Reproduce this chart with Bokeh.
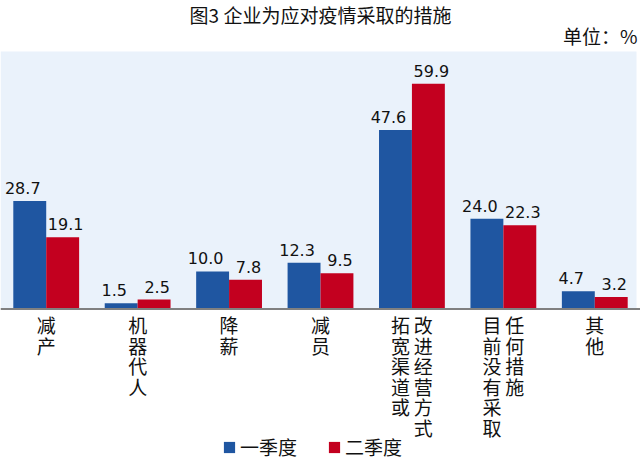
from bokeh.plotting import figure
from bokeh.models import FactorRange, Range1d, Label, Legend, LegendItem, ColumnDataSource, BoxAnnotation, Span
from bokeh.transform import dodge
from bokeh.core.properties import value
from bokeh.embed import file_html
from bokeh.resources import INLINE

# ---- data ----
cat_columns = [["减产"], ["机器代人"], ["降薪"], ["减员"],
               ["拓宽渠道或", "改进经营方式"], ["目前没有采取", "任何措施"], ["其他"]]
categories = ["".join(c) for c in cat_columns]
q1 = [28.7, 1.5, 10.0, 12.3, 47.6, 24.0, 4.7]
q2 = [19.1, 2.5, 7.8, 9.5, 59.9, 22.3, 3.2]
series = ["一季度", "二季度"]
title_text = "图3 企业为应对疫情采取的措施"
unit_text = "单位：%"

BLUE = "#1f56a1"
RED = "#c3001f"
BG = "#eaf2fb"
CJK = "Noto Sans CJK SC"
W, H = 640, 460
BASE = 308.5          # baseline, px from top
PX_PER_UNIT = 3.76
PLOT_TOP = 51         # top of shaded plot area, px from top


def vertical_label(cols):
    n = max(len(c) for c in cols)
    rows = []
    for i in range(n):
        rows.append("\u2009".join(c[i] if i < len(c) else "\u3000" for c in cols))
    return "\n".join(rows)


src = ColumnDataSource(dict(
    cat=categories, q1=q1, q2=q2,
    q1_txt=[f"{v:.1f}" for v in q1], q2_txt=[f"{v:.1f}" for v in q2],
    lbl=[vertical_label(c) for c in cat_columns],
))

p = figure(width=W, height=H, x_range=FactorRange(*categories, range_padding=0),
           y_range=Range1d(-(H - BASE) / PX_PER_UNIT, BASE / PX_PER_UNIT),
           output_backend="svg", toolbar_location=None,
           x_axis_location=None, y_axis_location=None,
           min_border=0, min_border_left=0, min_border_right=0,
           min_border_top=0, min_border_bottom=0)
p.background_fill_color = "white"
p.border_fill_color = "white"
p.outline_line_color = None
p.xgrid.visible = False
p.ygrid.visible = False

bg = BoxAnnotation(bottom=0, top=(BASE - PLOT_TOP) / PX_PER_UNIT, right=636, right_units="screen",
                   fill_color=BG, fill_alpha=1, line_color=None, level="underlay")
p.add_layout(bg)

r1 = p.vbar(x=dodge("cat", -0.18, range=p.x_range), top="q1", width=0.36, source=src,
            fill_color=BLUE, line_color=None)
r2 = p.vbar(x=dodge("cat", 0.18, range=p.x_range), top="q2", width=0.36, source=src,
            fill_color=RED, line_color=None)

p.add_layout(Span(location=0, dimension="width", line_color="#808080", line_width=2))

p.text(x=dodge("cat", -0.18, range=p.x_range), y="q1", text="q1_txt", source=src,
       text_font=value("DejaVu Sans"), text_font_size="16px", text_color="#111111",
       text_align="center", text_baseline="bottom", x_offset=-7, y_offset=-7)
p.text(x=dodge("cat", 0.18, range=p.x_range), y="q2", text="q2_txt", source=src,
       text_font=value("DejaVu Sans"), text_font_size="16px", text_color="#111111",
       text_align="center", text_baseline="bottom", x_offset=3, y_offset=-7)

# category labels written vertically under the baseline
p.text(x="cat", y=0, text="lbl", source=src, text_font=value(CJK), text_font_size="19px",
       text_color="#111111", text_align="center", text_baseline="top",
       text_line_height=0.76, y_offset=2)

legend = Legend(items=[LegendItem(label=series[0], renderers=[r1]),
                       LegendItem(label=series[1], renderers=[r2])],
                orientation="horizontal", location=(222, 0),
                glyph_width=14, glyph_height=14, label_standoff=4, spacing=30,
                padding=0, margin=0, border_line_alpha=0, background_fill_alpha=0,
                label_text_font=CJK, label_text_font_size="19px", label_text_color="#111111")
p.add_layout(legend, "center")

p.add_layout(Label(x=W / 2, y=H - 14, x_units="screen", y_units="screen", text=title_text,
                   text_font=CJK, text_font_size="19px", text_align="center",
                   text_baseline="middle", text_color="#111111"))
p.add_layout(Label(x=637, y=H - 35, x_units="screen", y_units="screen", text=unit_text,
                   text_font=CJK, text_font_size="19px", text_align="right",
                   text_baseline="middle", text_color="#111111"))

open("out.html", "w").write(file_html(p, INLINE))
